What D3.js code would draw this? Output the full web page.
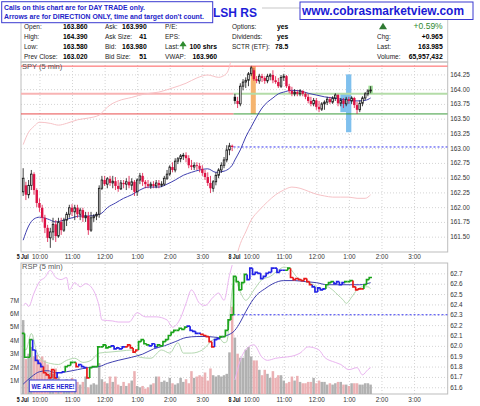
<!DOCTYPE html>
<html>
<head>
<meta charset="utf-8">
<script src="https://cdnjs.cloudflare.com/ajax/libs/d3/7.8.5/d3.min.js"></script>
<style>
  body { margin: 0; background: #fff; }
  svg { display: block; }
</style>
</head>
<body>
<div id="chart"></div>
<script>
// ---- data ----
// SPY 5 min bars, 5 Jul (0-77) and 8 Jul (78-128)
const spyOpen = [162.26,162.37,162.21,162.37,162.56,162.29,162.07,161.99,161.82,161.65,
  161.48,161.58,161.71,161.51,161.75,161.61,161.78,161.88,161.99,161.92,
  161.99,161.88,161.95,161.82,161.85,161.61,161.82,161.85,161.88,162.32,
  162.46,162.39,162.48,162.41,162.44,162.36,162.31,162.41,162.39,162.43,
  162.37,162.43,162.26,162.46,162.53,162.43,162.39,162.36,162.39,162.36,
  162.41,162.37,162.39,162.49,162.56,162.68,162.63,162.78,162.82,162.87,
  162.88,162.83,162.71,162.68,162.71,162.70,162.65,162.58,162.51,162.41,
  162.32,162.43,162.54,162.63,162.71,162.80,162.97,163.04,
  163.87,163.80,163.75,164.05,164.12,164.15,164.26,164.32,164.17,164.14,
  164.22,164.19,164.14,164.22,164.24,164.15,164.12,164.05,164.20,164.22,
  164.05,163.97,163.92,163.95,163.92,163.97,163.92,163.87,163.80,163.75,
  163.81,163.70,163.66,163.75,163.78,163.83,163.78,163.85,163.90,163.76,
  163.81,163.75,163.83,163.80,163.85,163.73,163.65,163.76,163.85,163.92,163.97];
const spyHigh = [162.66,162.43,162.46,162.63,162.59,162.32,162.15,162.04,161.87,161.70,
  161.65,161.82,161.78,161.82,161.82,161.82,161.92,162.04,162.05,162.04,
  162.04,161.99,161.99,161.92,161.92,161.92,161.88,161.92,162.37,162.53,
  162.53,162.51,162.53,162.53,162.51,162.46,162.46,162.46,162.49,162.53,
  162.49,162.46,162.49,162.58,162.58,162.46,162.46,162.43,162.44,162.46,
  162.46,162.44,162.53,162.63,162.71,162.76,162.83,162.85,162.90,162.92,
  162.93,162.88,162.80,162.76,162.76,162.75,162.71,162.63,162.59,162.53,
  162.46,162.59,162.66,162.76,162.85,163.05,163.09,163.06,
  163.92,163.87,164.10,164.17,164.20,164.29,164.39,164.36,164.22,164.26,
  164.26,164.22,164.26,164.27,164.32,164.22,164.19,164.24,164.26,164.24,
  164.09,164.04,164.00,163.98,164.00,163.98,163.95,163.92,163.87,163.85,
  163.85,163.80,163.78,163.81,163.87,163.87,163.88,163.93,163.92,163.85,
  163.85,163.87,163.87,163.88,163.87,163.78,163.81,163.88,163.95,164.00,164.05];
const spyLow = [162.19,162.12,162.15,162.29,162.21,162.00,161.92,161.75,161.56,161.41,
  161.31,161.44,161.41,161.48,161.53,161.58,161.68,161.82,161.85,161.78,
  161.82,161.78,161.75,161.75,161.53,161.58,161.75,161.78,161.82,162.29,
  162.36,162.32,162.36,162.32,162.29,162.26,162.29,162.32,162.29,162.32,
  162.29,162.19,162.19,162.39,162.36,162.32,162.32,162.31,162.32,162.32,
  162.32,162.34,162.36,162.46,162.53,162.59,162.59,162.73,162.76,162.80,
  162.76,162.66,162.63,162.63,162.63,162.59,162.53,162.46,162.36,162.24,
  162.26,162.37,162.49,162.58,162.66,162.76,162.88,162.95,
  163.75,163.68,163.71,163.98,164.02,164.05,164.22,164.14,164.10,164.09,
  164.12,164.09,164.10,164.15,164.10,164.09,164.02,164.02,164.14,164.02,
  163.93,163.88,163.88,163.88,163.88,163.88,163.83,163.76,163.71,163.71,
  163.65,163.61,163.63,163.65,163.73,163.75,163.75,163.80,163.71,163.71,
  163.68,163.71,163.75,163.75,163.68,163.58,163.61,163.71,163.81,163.88,163.93];
const spyClose = [162.49,162.21,162.37,162.56,162.29,162.07,161.99,161.82,161.65,161.48,
  161.58,161.71,161.51,161.75,161.61,161.78,161.88,161.99,161.92,161.99,
  161.88,161.95,161.82,161.85,161.61,161.82,161.85,161.88,162.32,162.46,
  162.39,162.48,162.41,162.44,162.36,162.31,162.41,162.39,162.43,162.37,
  162.43,162.26,162.46,162.53,162.43,162.39,162.36,162.39,162.36,162.41,
  162.37,162.39,162.49,162.56,162.68,162.63,162.78,162.82,162.87,162.88,
  162.83,162.71,162.68,162.71,162.70,162.65,162.58,162.51,162.41,162.32,
  162.43,162.54,162.63,162.71,162.80,162.97,163.04,163.02,
  163.80,163.75,164.05,164.12,164.15,164.26,164.36,164.17,164.14,164.22,
  164.19,164.14,164.22,164.24,164.15,164.12,164.05,164.20,164.22,164.05,
  163.97,163.92,163.95,163.92,163.97,163.92,163.87,163.80,163.75,163.81,
  163.70,163.66,163.75,163.78,163.83,163.78,163.85,163.90,163.76,163.81,
  163.75,163.83,163.80,163.85,163.73,163.65,163.76,163.85,163.92,163.97,163.985];

// SPY moving average (bar, value)
const spyMaBars = [0,2,4,6,9,12,15,18,21,24,27,29,31,34,37,40,43,46,50,53,
  56,59,62,65,68,71,74,76,77,78,80,82,84,86,88,90,92,94,96,99,
  102,105,108,111,114,117,120,123,126,128];
const spyMa = [161.44,161.68,161.80,161.83,161.80,161.75,161.78,161.82,161.85,161.85,
  161.87,161.90,161.99,162.07,162.15,162.21,162.29,162.34,162.34,162.39,
  162.46,162.54,162.59,162.63,162.65,162.59,162.61,162.66,162.71,162.80,
  162.97,163.19,163.36,163.53,163.68,163.78,163.85,163.92,163.95,163.98,
  163.97,163.93,163.90,163.87,163.85,163.83,163.81,163.80,163.81,163.85];

// pink overlay in the price panel (null = break between sessions)
const overlayBars = [0,2,4,6,10,13,16,20,24,28,30,32,35,40,45,50,55,60,64,68,72,75,77,77.5,
  78,80,82,84,87,90,93,96,99,102,105,108,111,114,117,120,123,126,128];
const overlayValues = [163.06,163.27,163.37,163.44,163.42,163.39,163.42,163.48,163.51,163.56,
  163.65,163.73,163.80,163.86,163.92,163.95,164.02,164.10,164.19,164.24,164.20,164.27,164.58,null,
  161.07,161.38,161.58,161.78,161.95,162.09,162.21,162.29,162.34,162.32,162.27,162.22,162.19,
  162.17,162.17,162.17,162.15,162.15,162.21];

// RSP 5 min closes
const rspClose = [62.12,61.89,61.89,62.06,61.96,61.86,61.83,61.80,61.74,61.72,
  61.69,61.77,61.69,61.74,61.74,61.75,61.80,61.81,61.84,61.84,
  61.80,61.82,61.80,61.79,61.69,61.79,61.80,61.80,61.99,61.99,
  62.01,61.98,61.99,62.00,61.97,61.98,61.97,61.99,61.99,62.01,
  61.98,61.94,61.96,62.04,62.06,62.02,62.01,62.00,62.02,61.99,
  62.01,62.00,62.04,62.06,62.10,62.13,62.15,62.15,62.17,62.16,
  62.18,62.19,62.15,62.14,62.12,62.12,62.11,62.10,62.09,62.04,
  61.99,62.06,62.07,62.09,62.09,62.15,62.25,62.30,
  62.67,62.62,62.54,62.61,62.69,62.64,62.75,62.69,62.71,62.70,
  62.65,62.67,62.70,62.71,62.75,62.75,62.71,62.73,62.73,62.73,
  62.75,62.66,62.64,62.65,62.64,62.63,62.65,62.62,62.59,62.57,
  62.52,62.56,62.54,62.55,62.59,62.61,62.62,62.60,62.62,62.59,
  62.61,62.62,62.62,62.63,62.57,62.54,62.55,62.55,62.59,62.64,62.66];
// trend state of each RSP bar: g = up, b = neutral, r = down
const rspTrend = ("gggg bbbb rrrrr bbb gggg r bbb r gggggggg bbbbb rrrrr gggg bbb ggggggggggg bbbbb rrrrr bb ggggg " +
  "ggggg bbbbbbbbbbbbbb gg rrrrrrrr bbbbb ggg bbbb ggg rrrr ggg").replace(/ /g, "").split("");

const rspMaBars = [0,3,6,9,12,16,20,24,28,31,35,40,44,48,52,56,60,64,68,72,
  75,78,80,82,84,86,89,92,96,100,104,108,112,116,120,124,128];
const rspMa = [61.63,61.70,61.75,61.76,61.74,61.75,61.77,61.79,61.80,61.83,
  61.86,61.89,61.92,61.97,62.00,62.04,62.08,62.09,62.09,62.08,
  62.10,62.15,62.23,62.33,62.42,62.49,62.55,62.60,62.63,62.63,
  62.62,62.61,62.59,62.59,62.59,62.59,62.61];

const rspPinkBars = [0,1,2,4,6,8,10,12,14,16,17,19,21,23,25,27,28,29,33,35,
  39,42,45,49,53,55,58,60,62,65,67,70,72,74,76,77,77.5,
  78,80,83,85,88,90,93,96,99,102,105,109,111,115,117,120,123,125,127,128];
const rspPink = [62.39,62.41,62.38,62.51,62.62,62.66,62.73,62.66,62.64,62.66,
  62.54,62.61,62.57,62.60,62.57,62.47,62.38,62.25,62.24,62.23,
  62.23,62.32,62.28,62.28,62.25,62.18,62.27,62.41,62.54,62.41,
  62.39,62.47,62.51,62.44,62.68,62.78,null,
  61.67,61.86,61.99,62.01,61.89,61.86,61.88,61.89,61.90,61.93,
  61.99,61.96,61.89,61.84,61.82,61.77,61.79,61.72,61.77,61.79];

const rspGreenBars = [0,1,3,5,7,10,13,16,19,22,25,28,32,36,40,43,47,51,54,57,
  59,62,66,70,72,74,75,76,77,78,80,82,85,88,91,94,96,98,101,104,
  107,110,112,114,116,118,119,121,123,125,127,128];
const rspGreen = [61.99,61.96,62.12,61.94,61.86,61.83,61.82,61.86,61.88,61.84,
  61.86,61.93,61.94,61.95,61.96,61.89,61.88,61.96,61.93,62.03,
  61.93,61.93,61.96,62.06,62.08,62.03,62.04,62.25,62.54,62.64,
  62.52,62.44,62.54,62.64,62.67,62.73,62.76,62.75,62.66,62.62,
  62.59,62.54,62.57,62.54,62.49,62.44,62.41,62.47,62.54,62.57,
  62.57,62.55];

// volume, millions
const volume = [5.5,2.6,3.0,3.5,2.8,2.9,2.6,2.8,2.5,2.2,
  1.6,1.5,1.9,1.3,1.0,0.9,1.1,0.8,1.2,1.0,
  0.9,0.7,0.9,1.3,0.5,0.7,0.8,0.7,2.3,1.1,
  0.9,0.8,1.3,0.9,1.3,0.7,0.6,0.9,0.6,0.8,
  1.0,1.7,0.6,0.5,0.6,0.4,0.5,0.7,0.8,1.3,
  1.3,0.9,1.0,0.9,1.2,0.8,0.7,0.8,1.2,0.9,
  1.1,0.8,1.7,1.2,1.3,1.4,1.3,1.6,1.0,1.9,
  1.4,1.3,1.4,1.3,1.4,1.5,3.1,6.5,
  4.2,3.0,2.7,2.7,3.3,3.5,2.8,2.5,2.5,1.8,
  1.4,1.8,1.5,1.2,1.7,1.2,1.4,1.4,1.0,0.8,
  0.9,1.3,1.0,1.35,0.9,0.8,0.8,0.9,0.9,1.2,
  0.8,1.0,0.9,0.9,0.7,0.8,0.7,0.8,0.9,0.9,
  0.7,0.7,0.6,0.8,0.8,0.8,0.7,0.7,0.8,0.8,0.7];

const spyLevels = [164.39, 163.92, 163.58];
const spyPrevClose = 163.02;
const rspPrevClose = 62.30;
// [first bar, last bar, top price, bottom price]
const orangeZones = [[83.85, 85.7, 164.39, 163.58]];
const blueZones = [[118.95, 120.9, 164.25, 163.27], [116.85, 118.95, 163.92, 163.61]];

const spyTicks = [161.50,161.75,162.00,162.25,162.50,162.75,163.00,163.25,163.50,163.75,164.00,164.25];
const rspTicks = [61.6,61.7,61.8,61.9,62.0,62.1,62.2,62.3,62.4,62.5,62.6,62.7];
const volTicks = [1,2,3,4,5,6,7];
const hourTicks = [6,18,30,42,54,66,84,96,108,120,132,144];
const hourLabels = ["10:00","11:00","12:00","1:00","2:00","3:00","10:00","11:00","12:00","1:00","2:00","3:00"];
const dayTicks = [0, 78];
const dayLabels = ["5 Jul", "8 Jul"];

const statLabels = [
  ["Open:", "High:", "Low:", "Prev Close:"],
  ["Ask:", "Ask Size:", "Bid:", "Bid Size:"],
  ["P/E:", "EPS:", "Last:", "VWAP:"],
  ["Options:", "Dividends:", "SCTR (ETF):", ""],
  ["", "Chg:", "Last:", "Volume:"]
];
const statValues = [
  ["163.860", "164.390", "163.580", "163.020"],
  ["163.990", "41", "163.980", "51"],
  ["", "", "100 shrs", "163.960"],
  ["yes", "yes", "78.5", ""],
  ["", "+0.965", "163.985", "65,957,432"]
];
const pctChange = "+0.59%";

// ---- layout ----
const width = 480, height = 406;
const FONT = "'Liberation Sans', Arial, sans-serif";
const plotLeft = 21, plotRight = 447.7;
const main = {top: 62, bottom: 252};
const lower = {top: 263, bottom: 394};

const x = d3.scaleLinear().domain([-0.8, 156.4]).range([plotLeft, plotRight]);
const y = d3.scaleLinear().domain([161.24, 164.46]).range([main.bottom, main.top]);
const yR = d3.scaleLinear().domain([61.535, 62.80]).range([lower.bottom, lower.top]);
const yV = d3.scaleLinear().domain([0, 9.75]).range([lower.bottom, lower.top]);

const svg = d3.select("#chart").append("svg")
    .attr("width", width)
    .attr("height", height)
    .style("font-family", FONT);

const defs = svg.append("defs");
[["clipMain", main], ["clipLower", lower]].forEach(function(c) {
  defs.append("clipPath").attr("id", c[0])
    .append("rect")
      .attr("x", plotLeft).attr("y", c[1].top)
      .attr("width", plotRight - plotLeft).attr("height", c[1].bottom - c[1].top);
});

function gridLines(panel, yScale, ticks) {
  const g = svg.append("g");
  g.append("g")
      .attr("transform", "translate(" + plotLeft + ",0)")
      .call(d3.axisLeft(yScale).tickValues(ticks).tickSize(-(plotRight - plotLeft)).tickFormat(""));
  g.append("g")
      .attr("transform", "translate(0," + panel.bottom + ")")
      .call(d3.axisBottom(x).tickValues(hourTicks).tickSize(-(panel.bottom - panel.top)).tickFormat(""));
  g.selectAll(".domain").remove();
  g.selectAll(".tick line").attr("stroke", "#d4d4d4").attr("stroke-dasharray", "1,2");
}

function styleAxis(g) {
  g.attr("font-family", FONT).attr("font-size", 6.4);
  g.select(".domain").remove();
  g.selectAll(".tick line").remove();
  g.selectAll("text").attr("fill", "#333");
}

// ---- header ----
svg.append("rect")
    .attr("x", plotLeft).attr("y", 8)
    .attr("width", plotRight - plotLeft).attr("height", main.top - 8)
    .attr("fill", "#fff").attr("stroke", "#c8c8c8");

svg.append("rect").attr("x", 210).attr("y", 5).attr("width", 52).attr("height", 14).attr("fill", "#fff");
svg.append("text")
    .attr("x", 213).attr("y", 16.7)
    .attr("font-size", 12).attr("font-weight", "bold").attr("fill", "#1e1ed8")
    .text("LSH RS");

const colLabelX = [24, 105, 165, 232, 377];
const colValueX = [87.5, 146.7, 217, 288.3, 442.7];
const rowY = [29.3, 39.3, 49.3, 59.3];

statLabels.forEach(function(col, c) {
  col.forEach(function(label, r) {
    if (label) {
      svg.append("text")
          .attr("x", colLabelX[c]).attr("y", rowY[r])
          .attr("font-size", 6.5).attr("fill", "#222")
          .text(label);
    }
    if (statValues[c][r]) {
      svg.append("text")
          .attr("x", colValueX[c]).attr("y", rowY[r])
          .attr("text-anchor", "end")
          .attr("font-size", 6.8).attr("font-weight", "bold").attr("fill", "#000")
          .text(statValues[c][r]);
    }
  });
});

// green up arrow next to Last
svg.append("path")
    .attr("d", "M183,49.3V44.5M180.6,45.6L183,42.2L185.4,45.6Z")
    .attr("stroke", "#2e8b2e").attr("stroke-width", 1.3).attr("fill", "#2e8b2e");

svg.append("path")
    .attr("d", "M379,29.3L383,22.7L387,29.3Z")
    .attr("fill", "#2f7a32");
svg.append("text")
    .attr("x", 442.7).attr("y", 29.3)
    .attr("text-anchor", "end")
    .attr("font-size", 8.5).attr("fill", "#2f8a2f")
    .text(pctChange);

// ---- price panel ----
gridLines(main, y, spyTicks);
svg.append("rect")
    .attr("x", plotLeft).attr("y", main.top)
    .attr("width", plotRight - plotLeft).attr("height", main.bottom - main.top)
    .attr("fill", "none").attr("stroke", "#bdbdbd");

const mainG = svg.append("g").attr("clip-path", "url(#clipMain)");

mainG.selectAll("rect.orange").data(orangeZones).join("rect")
    .attr("x", d => x(d[0])).attr("width", d => x(d[1]) - x(d[0]))
    .attr("y", d => y(d[2])).attr("height", d => y(d[3]) - y(d[2]))
    .attr("fill", "#f5b46e");
mainG.selectAll("rect.blue").data(blueZones).join("rect")
    .attr("x", d => x(d[0])).attr("width", d => x(d[1]) - x(d[0]))
    .attr("y", d => y(d[2])).attr("height", d => y(d[3]) - y(d[2]))
    .attr("fill", "#7fc0ee");

// support / resistance levels: left = previous session colour, right = today
const levelStyles = [
  {left: "#ff5c5c", right: "#ff5c5c", w: 1},
  {left: "#f8b4b4", right: "#b4dca8", w: 2},
  {left: "#e84c4c", right: "#3a9a3a", w: 1}
];
const split = x(77.5);
spyLevels.forEach(function(lv, k) {
  const s = levelStyles[k];
  mainG.append("line")
      .attr("x1", plotLeft).attr("x2", split).attr("y1", y(lv)).attr("y2", y(lv))
      .attr("stroke", s.left).attr("stroke-width", s.w);
  mainG.append("line")
      .attr("x1", split).attr("x2", plotRight).attr("y1", y(lv)).attr("y2", y(lv))
      .attr("stroke", s.right).attr("stroke-width", s.w);
});

mainG.append("line")
    .attr("x1", split).attr("x2", plotRight)
    .attr("y1", y(spyPrevClose)).attr("y2", y(spyPrevClose))
    .attr("stroke", "#3434f0").attr("stroke-dasharray", "2,2");

const overlayLine = d3.line()
    .defined(d => d[1] !== null)
    .x(d => x(d[0])).y(d => y(d[1]))
    .curve(d3.curveMonotoneX);
mainG.append("path")
    .attr("d", overlayLine(d3.zip(overlayBars, overlayValues)))
    .attr("fill", "none").attr("stroke", "#f6c2c6").attr("stroke-width", 1);

mainG.append("path")
    .attr("d", d3.line().x(d => x(d[0])).y(d => y(d[1])).curve(d3.curveMonotoneX)(d3.zip(spyMaBars, spyMa)))
    .attr("fill", "none").attr("stroke", "#4040b0").attr("stroke-width", 1);

const candles = spyClose.map(function(c, i) {
  return {i: i, o: spyOpen[i], h: spyHigh[i], l: spyLow[i], c: c,
          up: i === 0 || c >= spyClose[i - 1]};
});
const candleColor = d => d.up ? "#111" : "#dd1144";
const last = candles[candles.length - 1];

mainG.append("rect")
    .attr("x", x(last.i) - 2.2).attr("width", 4.4)
    .attr("y", y(last.h) - 0.5).attr("height", y(last.l) - y(last.h) + 1)
    .attr("fill", "#9edc96");

mainG.append("g").selectAll("line").data(candles).join("line")
    .attr("x1", d => x(d.i)).attr("x2", d => x(d.i))
    .attr("y1", d => y(d.h)).attr("y2", d => y(d.l))
    .attr("stroke", candleColor).attr("stroke-width", 0.8);

mainG.append("g").selectAll("rect").data(candles).join("rect")
    .attr("x", d => d.c > d.o ? x(d.i) - 0.8 : x(d.i) - 1.2)
    .attr("width", d => d.c > d.o ? 1.6 : 2.4)
    .attr("y", d => y(Math.max(d.o, d.c)))
    .attr("height", d => Math.max(0.8, Math.abs(y(d.o) - y(d.c))))
    .attr("fill", d => d.c > d.o ? "#fff" : candleColor(d))
    .attr("stroke", candleColor)
    .attr("stroke-width", d => d.c > d.o ? 0.8 : 0);

svg.append("text")
    .attr("x", 22).attr("y", 68.6)
    .attr("font-size", 7.5).attr("fill", "#555")
    .text("SPY (5 min)");

svg.append("g")
    .attr("transform", "translate(" + plotRight + ",0)")
    .call(d3.axisRight(y).tickValues(spyTicks).tickFormat(d3.format(".2f")).tickSize(0).tickPadding(2.5))
    .call(styleAxis);

// ---- RSP / volume panel ----
gridLines(lower, yR, rspTicks);
svg.append("rect")
    .attr("x", plotLeft).attr("y", lower.top)
    .attr("width", plotRight - plotLeft).attr("height", lower.bottom - lower.top)
    .attr("fill", "none").attr("stroke", "#bdbdbd");

const lowerG = svg.append("g").attr("clip-path", "url(#clipLower)");

lowerG.append("g").selectAll("rect").data(volume).join("rect")
    .attr("x", (d, i) => x(i) - 1.25)
    .attr("width", 2.5)
    .attr("y", d => yV(d))
    .attr("height", d => yV(0) - yV(d))
    .attr("fill", (d, i) => candles[i].up ? "#a9a9a9" : "#e9a8ac")
    .attr("fill-opacity", 0.9);

const curve = d3.line()
    .defined(d => d[1] !== null)
    .x(d => x(d[0])).y(d => yR(d[1]))
    .curve(d3.curveMonotoneX);

lowerG.append("path")
    .attr("d", curve(d3.zip(rspPinkBars, rspPink)))
    .attr("fill", "none").attr("stroke", "#eab4f0").attr("stroke-width", 1);
lowerG.append("path")
    .attr("d", curve(d3.zip(rspGreenBars, rspGreen)))
    .attr("fill", "none").attr("stroke", "#b4d8b0").attr("stroke-width", 1);
lowerG.append("path")
    .attr("d", curve(d3.zip(rspMaBars, rspMa)))
    .attr("fill", "none").attr("stroke", "#4040b0").attr("stroke-width", 1);

lowerG.append("line")
    .attr("x1", split).attr("x2", plotRight)
    .attr("y1", yR(rspPrevClose)).attr("y2", yR(rspPrevClose))
    .attr("stroke", "#3434f0").attr("stroke-dasharray", "2,2");

const trendColor = d3.scaleOrdinal().domain(["g", "b", "r"]).range(["#1aa31a", "#2222e6", "#e81818"]);
lowerG.append("g").selectAll("path").data(rspClose).join("path")
    .attr("d", function(d, i) {
      const prev = i ? rspClose[i - 1] : d;
      return "M" + x(i - 0.5) + "," + yR(prev) + "V" + yR(d) + "H" + x(i + 0.5);
    })
    .attr("fill", "none")
    .attr("stroke", (d, i) => trendColor(rspTrend[i]))
    .attr("stroke-width", 1.7);

svg.append("text")
    .attr("x", 22).attr("y", 268.6)
    .attr("font-size", 7.5).attr("fill", "#555")
    .text("RSP (5 min)");

svg.append("g")
    .attr("transform", "translate(" + plotRight + ",0)")
    .call(d3.axisRight(yR).tickValues(rspTicks).tickFormat(d3.format(".1f")).tickSize(0).tickPadding(2.5))
    .call(styleAxis);

svg.append("g")
    .attr("transform", "translate(" + plotLeft + ",0)")
    .call(d3.axisLeft(yV).tickValues(volTicks).tickFormat(d => d + "M").tickSize(0).tickPadding(2))
    .call(styleAxis);

// ---- time axes ----
[[main.bottom, 2.6], [lower.bottom, 3.9]].forEach(function(a) {
  svg.append("g")
      .attr("transform", "translate(0," + a[0] + ")")
      .call(d3.axisBottom(x).tickValues(hourTicks).tickFormat((d, i) => hourLabels[i]).tickSize(0).tickPadding(a[1]))
      .call(styleAxis);
  svg.append("g")
      .attr("transform", "translate(0," + a[0] + ")")
      .call(d3.axisBottom(x).tickValues(dayTicks).tickFormat((d, i) => dayLabels[i]).tickSize(0).tickPadding(a[1]))
      .call(styleAxis)
      .selectAll("text")
        .attr("font-weight", "bold").attr("fill", "#111").attr("dx", "-1")
        .attr("textLength", 12).attr("lengthAdjust", "spacingAndGlyphs");
});

// ---- notes ----
svg.append("rect")
    .attr("x", 29.3).attr("y", 380)
    .attr("width", 46.7).attr("height", 11.7)
    .attr("fill", "#fff").attr("stroke", "#3a3ad0");
svg.append("text")
    .attr("x", 31.5).attr("y", 389)
    .attr("font-size", 7).attr("font-weight", "bold").attr("fill", "#2323d0")
    .attr("textLength", 43).attr("lengthAdjust", "spacingAndGlyphs")
    .text("WE ARE HERE!");

svg.append("rect")
    .attr("x", 1.7).attr("y", 1.7)
    .attr("width", 211).attr("height", 21)
    .attr("fill", "#fff").attr("stroke", "#3a3ad0");
svg.append("text")
    .attr("x", 4).attr("y", 10.3)
    .attr("font-size", 7).attr("font-weight", "bold").attr("fill", "#2323c8")
    .attr("textLength", 141).attr("lengthAdjust", "spacingAndGlyphs")
    .text("Calls on this chart are for DAY TRADE only.");
svg.append("text")
    .attr("x", 4).attr("y", 19)
    .attr("font-size", 7).attr("font-weight", "bold").attr("fill", "#2323c8")
    .attr("textLength", 200).attr("lengthAdjust", "spacingAndGlyphs")
    .text("Arrows are for DIRECTION ONLY, time and target don't count.");

svg.append("rect")
    .attr("x", 300).attr("y", 2)
    .attr("width", 173).attr("height", 17.5)
    .attr("fill", "#fff").attr("stroke", "#3a3ad0");
svg.append("text")
    .attr("x", 302).attr("y", 15.2)
    .attr("font-size", 12).attr("font-weight", "bold").attr("fill", "#1a1ad6")
    .attr("textLength", 162).attr("lengthAdjust", "spacingAndGlyphs")
    .text("www.cobrasmarketview.com");
</script>
</body>
</html>
